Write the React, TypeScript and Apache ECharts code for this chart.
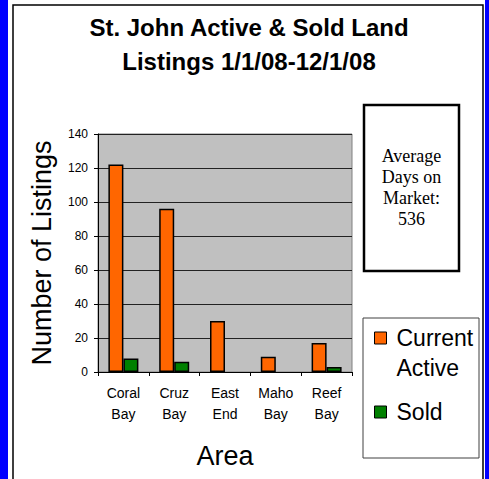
import React, { useEffect, useRef } from "react";
import * as echarts from "echarts";

const categories = ["Coral\nBay", "Cruz\nBay", "East\nEnd", "Maho\nBay", "Reef\nBay"];
const currentActive = [122, 96, 30, 9, 17];
const sold = [8, 6, 0, 0, 3];
const seriesNames = ["Current Active", "Sold"];
const seriesColors = ["#FF6600", "#008000"];
const titleText = "St. John Active & Sold Land\nListings 1/1/08-12/1/08";
const boxText = "Average\nDays on\nMarket:\n536";

const toBarData = (vals: number[]) =>
  vals.map((v) => (v === 0 ? { value: v, itemStyle: { borderWidth: 0 } } : v));

export default function App() {
  const ref = useRef<HTMLDivElement>(null);
  useEffect(() => {
    if (!ref.current) return;
    const chart = echarts.init(ref.current, null, { renderer: "svg" });
    const sans = "Liberation Sans";
    chart.setOption({
      animation: false,
      backgroundColor: "#FFFFFF",
      title: {
        text: titleText,
        left: 249,
        top: 10,
        padding: 0,
        textAlign: "center",
        textStyle: { fontFamily: sans, fontSize: 24, fontWeight: "bold", lineHeight: 34, color: "#000" },
      },
      graphic: [
        { type: "rect", shape: { x: 0, y: 0, width: 8, height: 479 }, style: { fill: "#0000FF" }, silent: true },
        { type: "rect", shape: { x: 485, y: 0, width: 4, height: 479 }, style: { fill: "#0000FF" }, silent: true },
        { type: "rect", shape: { x: 13, y: 5, width: 470, height: 490 }, style: { fill: "none", stroke: "#000", lineWidth: 1.5 }, silent: true },
        { type: "rect", shape: { x: 364, y: 105, width: 95, height: 166 }, style: { fill: "#FFFFFF", stroke: "#000", lineWidth: 2.5 }, silent: true },
        {
          type: "text",
          x: 411.5,
          y: 187,
          style: { text: boxText, fontFamily: "Liberation Serif", fontSize: 18, lineHeight: 21, fill: "#000", align: "center", verticalAlign: "middle" },
          silent: true,
        },
        { type: "rect", shape: { x: 363, y: 318, width: 116, height: 140 }, style: { fill: "#FFFFFF", stroke: "#404040", lineWidth: 1 }, silent: true, z: -1 },
      ],
      legend: {
        orient: "vertical",
        left: 374,
        top: 293,
        padding: 0,
        itemGap: 14,
        itemWidth: 12,
        itemHeight: 12,
        icon: "rect",
        itemStyle: { borderColor: "#000", borderWidth: 1 },
        textStyle: { fontFamily: sans, fontSize: 23, lineHeight: 30, color: "#000", padding: [0, 0, 0, 5] },
        formatter: (name: string) => (name === seriesNames[0] ? " \nCurrent\nActive" : name),
        data: seriesNames,
      },
      grid: {
        left: 98,
        top: 134,
        width: 254,
        height: 238,
        show: true,
        backgroundColor: "#C0C0C0",
        borderColor: "#808080",
        borderWidth: 1,
      },
      xAxis: {
        type: "category",
        data: categories,
        axisLine: { show: true, lineStyle: { color: "#000", width: 1 } },
        axisTick: { show: true, length: 4, lineStyle: { color: "#000" } },
        axisLabel: { fontFamily: sans, fontSize: 14, lineHeight: 21, margin: 10, color: "#000" },
        name: "Area",
        nameLocation: "middle",
        nameGap: 70,
        nameTextStyle: { fontFamily: sans, fontSize: 27, color: "#000" },
      },
      yAxis: {
        type: "value",
        min: 0,
        max: 140,
        interval: 20,
        axisLine: { show: true, lineStyle: { color: "#000", width: 1 } },
        axisTick: { show: true, length: 4, lineStyle: { color: "#000" } },
        splitLine: { show: true, lineStyle: { color: "#222", width: 1 } },
        axisLabel: { fontFamily: sans, fontSize: 12, margin: 10, color: "#000" },
        name: "Number of Listings",
        nameLocation: "middle",
        nameGap: 43,
        nameTextStyle: { fontFamily: sans, fontSize: 27, color: "#000" },
      },
      series: [
        {
          name: seriesNames[0],
          type: "bar",
          data: toBarData(currentActive),
          barGap: "0%",
          barWidth: 15,
          itemStyle: { color: seriesColors[0], borderColor: "#000", borderWidth: 1.5 },
        },
        {
          name: seriesNames[1],
          type: "bar",
          data: toBarData(sold),
          barGap: "0%",
          barWidth: 15,
          itemStyle: { color: seriesColors[1], borderColor: "#000", borderWidth: 1.5 },
        },
      ],
    });
    return () => chart.dispose();
  }, []);
  return <div ref={ref} style={{ position: "fixed", left: 0, top: 0, width: 489, height: 479 }} />;
}
